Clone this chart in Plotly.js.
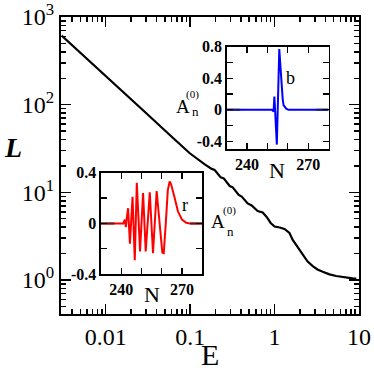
<!DOCTYPE html>
<html>
<head>
<meta charset="utf-8">
<script src="https://cdn.plot.ly/plotly-3.0.1.min.js"></script>
<style>
  html, body { margin: 0; padding: 0; background: #fff; }
  #plot { width: 374px; height: 371px; }
</style>
</head>
<body>
<div id="plot"></div>
<script>
// main curve, L against E (log-log)
const energy = [0.003, 0.0148, 0.03, 0.06, 0.099, 0.149, 0.166, 0.180, 0.195, 0.212, 0.230, 0.250,
  0.271, 0.294, 0.319, 0.346, 0.376, 0.408, 0.442, 0.480, 0.535, 0.580, 0.630, 0.723, 0.806,
  0.898, 1.00, 1.15, 1.31, 1.50, 1.64, 1.87, 2.16, 2.45, 2.83, 3.22, 3.72, 4.47, 5.36, 6.72, 8.41, 9.3];
const lengthL = [615, 152, 80.4, 43.4, 27.9, 20.8, 19.2, 18.5, 18.0, 16.2, 14.8, 14.4,
  13.1, 11.8, 11.4, 10.2, 9.33, 8.96, 8.18, 7.46, 7.08, 6.54, 6.13, 5.89, 5.23,
  4.47, 4.08, 3.97, 3.82, 3.44, 2.86, 2.38, 1.93, 1.63, 1.44, 1.32, 1.24, 1.16, 1.11, 1.07, 1.045, 1.04];

// inset b (blue)
const blueN = [230, 252.2, 253.0, 253.4, 254.6, 255.8, 257.5, 257.9, 259.2, 260.3, 280];
const blueA = [0, 0, -0.02, 0.17, -0.44, 0.77, 0.13, 0.06, 0.015, 0, 0];

// inset r (red)
const redN = [230, 241.0, 241.8, 242.3, 242.8, 243.4, 244.3, 245.6, 246.7, 247.7, 249.3, 250.8,
  252.1, 254.1, 255.7, 257.5, 260.3, 261.0, 262.0, 263.0, 263.9, 264.6, 266.4, 268.0, 270.0, 272.1, 274, 280];
const redA = [0, 0, 0.03, -0.03, 0.05, 0.12, -0.16, 0.21, -0.29, 0.32, -0.22, 0.24,
  -0.22, 0.245, -0.235, 0.255, -0.23, -0.235, 0.0, 0.26, 0.33, 0.31, 0.2, 0.095, 0.03, 0.005, 0, 0];

// dark bits of the zero line at both ends of each inset
const edgeN = [230, 236.7, null, 274, 280];
const edgeA = [0, 0, null, 0, 0];

const xTicks = [0.01, 0.1, 1, 10];
const xTickText = ['0.01', '0.1', '1', '10'];
const yTicks = [1, 10, 100, 1000];
const yTickText = ['10<sup>0</sup>', '10<sup>1</sup>', '10<sup>2</sup>', '10<sup>3</sup>'];

const insetNTicks = [230, 240, 250, 260, 270, 280];
const insetNText = ['', '240', '', '', '270', ''];
const blueATicks = [-0.4, -0.2, 0, 0.2, 0.4, 0.6, 0.8];
const blueAText = ['-0.4', '', '0', '', '0.4', '', '0.8'];
const redATicks = [-0.4, -0.2, 0, 0.2, 0.4];
const redAText = ['-0.4', '', '0', '', '0.4'];

function minorLog (from, to) {
  const vals = [];
  for (let p = from; p <= to; p++) {
    for (let d = 2; d <= 9; d++) vals.push(d * Math.pow(10, p));
  }
  return vals;
}

const bold = (labels) => labels.map((t) => (t ? '<b>' + t + '</b>' : ''));

const serif = 'Liberation Serif';

const mainAxis = {
  type: 'log',
  showline: true,
  linewidth: 2,
  linecolor: '#000',
  mirror: 'allticks',
  ticks: 'inside',
  ticklen: 10,
  tickwidth: 1.5,
  tickcolor: '#000',
  showgrid: false,
  zeroline: false,
  tickmode: 'array',
  tickfont: { family: serif, size: 24, color: '#000' }
};

function insetAxis (extra) {
  return Object.assign({
    showline: true,
    linewidth: 1.5,
    linecolor: '#000',
    mirror: 'ticks',
    ticks: 'inside',
    ticklen: 6,
    tickwidth: 1.2,
    tickcolor: '#000',
    showgrid: false,
    zeroline: false,
    tickmode: 'array',
    tickfont: { family: serif, size: 16, weight: 'bold', color: '#000' }
  }, extra);
}

const data = [
  { x: energy, y: lengthL, mode: 'lines', line: { color: '#000', width: 2.2 }, xaxis: 'x', yaxis: 'y' },
  { x: blueN, y: blueA, mode: 'lines', line: { color: '#0000ff', width: 2 }, xaxis: 'x2', yaxis: 'y2' },
  { x: edgeN, y: edgeA, mode: 'lines', line: { color: '#1c1c66', width: 2 }, xaxis: 'x2', yaxis: 'y2' },
  { x: redN, y: redA, mode: 'lines', line: { color: '#ff0000', width: 2 }, xaxis: 'x3', yaxis: 'y3' },
  { x: edgeN, y: edgeA, mode: 'lines', line: { color: '#5e1e1e', width: 2 }, xaxis: 'x3', yaxis: 'y3' }
];

function label (text, x, y, size, extra) {
  return Object.assign({
    text, x, y, xref: 'paper', yref: 'paper', showarrow: false,
    xanchor: 'center', yanchor: 'middle',
    font: { family: serif, size, color: '#000' }
  }, extra);
}

const layout = {
  width: 374,
  height: 371,
  margin: { l: 61, r: 15, t: 17, b: 57 },
  paper_bgcolor: '#fff',
  plot_bgcolor: '#fff',
  showlegend: false,
  font: { family: serif, color: '#000' },
  xaxis: Object.assign({}, mainAxis, {
    range: [-2.53, 1.0],
    tickvals: xTicks,
    ticktext: xTickText,
    minor: { tickmode: 'array', tickvals: minorLog(-3, 0), ticks: 'inside', ticklen: 5, tickwidth: 1.5, tickcolor: '#000', showgrid: false }
  }),
  yaxis: Object.assign({}, mainAxis, {
    range: [-0.388, 3],
    tickvals: yTicks,
    ticktext: yTickText,
    minor: { tickmode: 'array', tickvals: minorLog(-1, 2), ticks: 'inside', ticklen: 5, tickwidth: 1.5, tickcolor: '#000', showgrid: false }
  }),
  xaxis2: insetAxis({ domain: [0.556, 0.898], anchor: 'y2', range: [230, 280], tickvals: insetNTicks, ticktext: bold(insetNText) }),
  yaxis2: insetAxis({ domain: [0.5545, 0.900], anchor: 'x2', range: [-0.5, 0.8], tickvals: blueATicks, ticktext: bold(blueAText) }),
  xaxis3: insetAxis({ domain: [0.134, 0.474], anchor: 'y3', range: [230, 280], tickvals: insetNTicks, ticktext: bold(insetNText) }),
  yaxis3: insetAxis({ domain: [0.134, 0.476], anchor: 'x3', range: [-0.4, 0.4], tickvals: redATicks, ticktext: bold(redAText) }),
  annotations: [
    label('E', 0.5, -0.135, 30),
    label('<b><i>L</i></b>', -0.161, 0.5606, 28),
    label('b', 0.770, 0.7936, 18),
    label('r', 0.416, 0.3663, 18),
    label('N', 0.7232, 0.4848, 22),
    label('N', 0.307, 0.064, 22),
    label('A', 0.4094, 0.6987, 19),
    label('n', 0.4497, 0.6828, 13),
    label('(0)', 0.4413, 0.740, 11),
    label('A', 0.528, 0.3114, 19),
    label('n', 0.5698, 0.2788, 13),
    label('(0)', 0.5644, 0.3475, 11)
  ]
};

Plotly.newPlot('plot', data, layout, { displayModeBar: false, staticPlot: true });
</script>
</body>
</html>
